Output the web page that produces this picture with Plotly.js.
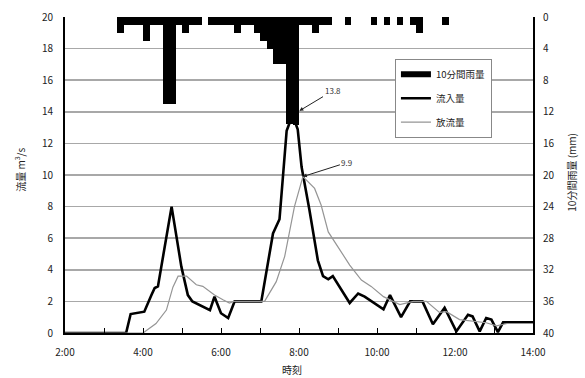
<!DOCTYPE html>
<html>
<head>
<meta charset="utf-8">
<script src="https://cdn.plot.ly/plotly-3.0.1.min.js"></script>
<style>
  html, body { margin: 0; padding: 0; background: #fff; }
  #chart { width: 585px; height: 378px; }
</style>
</head>
<body>
<div id="chart"></div>
<script>
// 10-minute rainfall (mm), start time of each interval
const rainStart = ['3:20','3:30','3:40','3:50','4:00','4:10','4:20','4:30','4:40','4:50',
                   '5:00','5:10','5:20','5:40','5:50','6:00','6:10','6:20','6:30','6:40',
                   '6:50','7:00','7:10','7:20','7:30','7:40','7:50','8:00','8:10','8:20',
                   '8:30','8:40','9:10','9:50','10:10','10:30','10:50','11:00','11:40'];
const rainMm    = [2, 1, 1, 1, 3, 1, 1, 11, 11, 1,
                   2, 1, 1, 1, 1, 1, 1, 2, 1, 1,
                   2, 3, 4, 6, 6, 13.6, 13.7, 1, 1, 2,
                   1, 1, 1, 1, 1, 1, 1, 2, 1];

// Inflow (m3/s)
const inflowTime = ['2:00','3:34','3:41','4:02','4:13','4:18','4:23','4:44','4:59','5:09',
                    '5:16','5:43','5:50','6:00','6:11','6:21','7:02','7:20','7:30','7:41',
                    '7:50','7:58','8:04','8:16','8:29','8:37','8:45','8:52','9:18','9:31',
                    '9:41','10:10','10:20','10:37','10:51','11:10','11:26','11:44','12:02','12:20',
                    '12:27','12:38','12:48','12:56','13:06','13:14','14:00'];
const inflowQ    = [0, 0, 1.2, 1.35, 2.4, 2.85, 2.95, 8.0, 4.2, 2.4,
                    2.0, 1.45, 2.3, 1.25, 0.95, 2.0, 2.0, 6.3, 7.2, 12.8,
                    13.8, 12.9, 10.5, 7.8, 4.6, 3.6, 3.4, 3.6, 1.9, 2.5,
                    2.3, 1.5, 2.4, 1.0, 2.0, 2.0, 0.55, 1.6, 0.1, 1.15,
                    1.05, 0.1, 0.95, 0.85, 0.05, 0.67, 0.67];

// Outflow (m3/s)
const outflowTime = ['2:00','4:00','4:20','4:36','4:46','4:54','5:07','5:22','5:32','5:50',
                     '6:03','6:13','6:20','7:07','7:25','7:38','7:53','8:06','8:24','8:34',
                     '8:45','9:03','9:18','9:36','9:51','10:10','10:35','10:56','11:16','11:36',
                     '11:47','12:07','12:27','12:48','13:04','13:20','14:00'];
const outflowQ    = [0, 0, 0.6, 1.45, 2.9, 3.6, 3.6, 3.05, 2.95, 2.4,
                     2.1, 1.9, 2.0, 2.0, 3.25, 4.85, 8.0, 9.9, 9.15, 8.1,
                     6.4, 5.25, 4.3, 3.35, 2.95, 2.3, 1.8, 2.0, 2.0, 1.3,
                     1.35, 0.85, 0.75, 0.65, 0.45, 0.6, 0.6];

const hourTicks = [2, 4, 6, 8, 10, 12, 14];
const hourText  = ['2:00', '4:00', '6:00', '8:00', '10:00', '12:00', '14:00'];

const FONT = '"Noto Sans CJK JP", "Noto Sans", sans-serif';
const hours = s => { const [h, m] = s.split(':'); return Number(h) + Number(m) / 60; };
const STEP = 1 / 6; // one rain interval in hours

const iPeak = inflowQ.indexOf(Math.max(...inflowQ));
const oPeak = outflowQ.indexOf(Math.max(...outflowQ));

const traces = [
  {
    type: 'scatter', mode: 'lines',
    x: inflowTime.map(hours), y: inflowQ,
    line: { color: '#000', width: 2.6 },
    name: '流入量', legendgroup: 'b', legendrank: 2, yaxis: 'y'
  },
  {
    type: 'scatter', mode: 'lines',
    x: outflowTime.map(hours), y: outflowQ,
    line: { color: '#959595', width: 1.2 },
    name: '放流量', legendgroup: 'c', legendrank: 3, yaxis: 'y'
  },
  {
    type: 'bar',
    x: rainStart.map(s => hours(s) + STEP / 2), y: rainMm,
    width: STEP,
    marker: { color: '#000', line: { width: 0 } },
    yaxis: 'y2', showlegend: false, name: '10分間雨量'
  },
  {
    // legend key for the rainfall bars
    type: 'scatter', mode: 'lines', x: [null], y: [null],
    line: { color: '#000', width: 6 },
    name: '10分間雨量', legendgroup: 'a', legendrank: 1, yaxis: 'y'
  }
];

const layout = {
  width: 585, height: 378,
  margin: { l: 65, r: 52, t: 17, b: 45 },
  paper_bgcolor: '#fff', plot_bgcolor: '#fff',
  font: { family: FONT, size: 10, color: '#222' },
  bargap: 0,
  showlegend: true,
  legend: {
    x: 0.705, y: 0.868, xanchor: 'left', yanchor: 'top',
    bgcolor: '#fff', bordercolor: '#888', borderwidth: 1,
    font: { size: 9.5, color: '#222' },
    traceorder: 'grouped', tracegroupgap: 5,
    itemwidth: 30
  },
  xaxis: {
    range: [2, 14],
    tickvals: hourTicks, ticktext: hourText,
    ticks: 'inside', ticklen: 5, tickcolor: '#000', tickwidth: 1,
    minor: { dtick: 1, tick0: 2, ticks: 'inside', ticklen: 5, tickcolor: '#000', tickwidth: 1, showgrid: false },
    ticklabelstandoff: 9,
    showline: true, linecolor: '#000', linewidth: 2,
    showgrid: false, zeroline: false,
    tickfont: { size: 10, color: '#222' }
  },
  yaxis: {
    range: [0, 20], dtick: 2,
    showline: true, linecolor: '#000', linewidth: 2,
    showgrid: true, gridcolor: '#a8a8a8', gridwidth: 1.5,
    zeroline: false, ticks: '',
    ticklabelstandoff: 8,
    tickfont: { size: 10, color: '#222' }
  },
  yaxis2: {
    overlaying: 'y', side: 'right',
    range: [40, 0], dtick: 4,
    showline: true, linecolor: '#000', linewidth: 2,
    showgrid: false, zeroline: false, ticks: '',
    ticklabelstandoff: 6,
    tickfont: { size: 10, color: '#222' }
  },
  annotations: [
    {
      x: hours(inflowTime[iPeak]), y: inflowQ[iPeak], xref: 'x', yref: 'y',
      text: inflowQ[iPeak].toFixed(1), showarrow: true,
      ax: 40, ay: -24, arrowhead: 2, arrowsize: 0.8, arrowwidth: 1, arrowcolor: '#222',
      standoff: 8, font: { size: 8, color: '#333' }
    },
    {
      x: hours(outflowTime[oPeak]), y: outflowQ[oPeak], xref: 'x', yref: 'y',
      text: outflowQ[oPeak].toFixed(1), showarrow: true,
      ax: 44, ay: -14, arrowhead: 2, arrowsize: 0.8, arrowwidth: 1, arrowcolor: '#222',
      font: { size: 8, color: '#333' }
    },
    {
      xref: 'paper', yref: 'paper', x: -0.097, y: 0.515,
      xanchor: 'center', yanchor: 'middle',
      text: '流量 m<sup>3</sup>/s', textangle: -90, showarrow: false,
      font: { size: 10, color: '#222' }
    },
    {
      xref: 'paper', yref: 'paper', x: 1.083, y: 0.51,
      xanchor: 'center', yanchor: 'middle',
      text: '10分間雨量 (mm)', textangle: -90, showarrow: false,
      font: { size: 10, color: '#222' }
    },
    {
      xref: 'paper', yref: 'paper', x: 0.485, y: -0.115,
      xanchor: 'center', yanchor: 'middle',
      text: '時刻', showarrow: false,
      font: { size: 10, color: '#222' }
    }
  ]
};

Plotly.newPlot('chart', traces, layout, { staticPlot: true, displayModeBar: false });
</script>
</body>
</html>
